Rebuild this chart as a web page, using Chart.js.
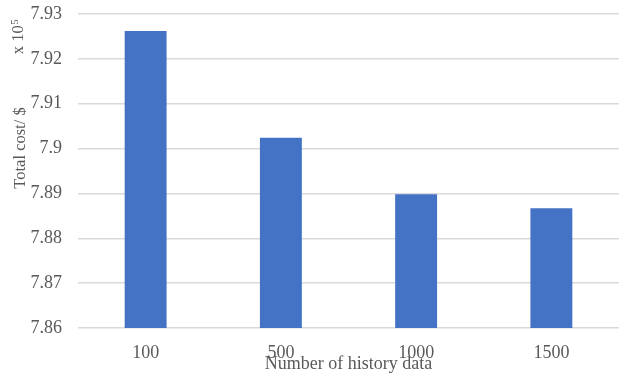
<!DOCTYPE html>
<html>
<head>
<meta charset="utf-8">
<script src="https://cdn.jsdelivr.net/npm/chart.js@4"></script>
<style>
  html, body { margin: 0; padding: 0; background: #fff; }
  #wrap { width: 619px; height: 376px; position: relative; }
</style>
</head>
<body>
<div id="wrap"><canvas id="c"></canvas></div>
<script>
// Total cost (x 10^5 $) by amount of history data used
const categories = ['100', '500', '1000', '1500'];
const totalCost = [7.9262, 7.9024, 7.8898, 7.8867];
const yTicks = [7.86, 7.87, 7.88, 7.89, 7.9, 7.91, 7.92, 7.93];

const serif = "'Liberation Serif', 'Times New Roman', serif";
const textColor = '#595959';

Chart.defaults.font.family = serif;
Chart.defaults.font.size = 18;
Chart.defaults.color = textColor;

// Rotated y-axis title with the x 10^5 multiplier above it
const sideTitles = {
  id: 'sideTitles',
  afterDraw(chart) {
    const ctx = chart.ctx;
    const area = chart.chartArea;
    ctx.save();
    ctx.fillStyle = textColor;
    ctx.textBaseline = 'middle';

    // "Total cost/ $"
    ctx.save();
    ctx.translate(21, area.top + 134);
    ctx.rotate(-Math.PI / 2);
    ctx.font = '16.5px ' + serif;
    ctx.textAlign = 'center';
    ctx.fillText('Total cost/ $', 0, 0);
    ctx.restore();

    // "x 10^5"
    ctx.save();
    ctx.translate(19, area.top + 23);
    ctx.rotate(-Math.PI / 2);
    ctx.textAlign = 'left';
    ctx.font = '16.5px ' + serif;
    const base = 'x 10';
    const w = ctx.measureText(base).width;
    ctx.font = '11px ' + serif;
    const ws = ctx.measureText('5').width;
    const start = -(w + ws) / 2;
    ctx.font = '16.5px ' + serif;
    ctx.fillText(base, start, 0);
    ctx.font = '11px ' + serif;
    ctx.fillText('5', start + w + 0.5, -4);
    ctx.restore();

    ctx.restore();
  }
};

new Chart(document.getElementById('c'), {
  type: 'bar',
  data: {
    labels: categories,
    datasets: [{
      data: totalCost,
      backgroundColor: '#4472C4',
      borderWidth: 0,
      categoryPercentage: 1.0,
      barPercentage: 0.31
    }]
  },
  options: {
    responsive: true,
    maintainAspectRatio: false,
    animation: false,
    layout: { padding: { top: 14, right: 0, bottom: 0, left: 0 } },
    plugins: {
      legend: { display: false },
      tooltip: { enabled: false }
    },
    scales: {
      x: {
        afterFit(scale) {
          scale.height = 48;
          scale.paddingLeft = 0;
          scale.paddingRight = 0;
        },
        grid: { display: false },
        border: { display: false },
        ticks: {
          color: textColor,
          font: { family: serif, size: 18, lineHeight: 1.0 },
          padding: 8,
          maxRotation: 0
        },
        title: {
          display: true,
          text: 'Number of history data',
          color: textColor,
          font: { family: serif, size: 18, lineHeight: 1.1 },
          padding: { top: 0, bottom: 2 }
        }
      },
      y: {
        min: 7.86,
        max: 7.93,
        afterBuildTicks(scale) {
          scale.ticks = yTicks.map(v => ({ value: v }));
        },
        afterFit(scale) {
          scale.width = 78;
          scale.paddingTop = 0;
          scale.paddingBottom = 0;
        },
        grid: { color: '#d9d9d9', lineWidth: 1.5, drawTicks: false },
        border: { display: false },
        ticks: {
          color: textColor,
          font: { family: serif, size: 18 },
          padding: 16,
          callback: v => String(Math.round(v * 100) / 100)
        }
      }
    }
  },
  plugins: [sideTitles]
});
</script>
</body>
</html>
